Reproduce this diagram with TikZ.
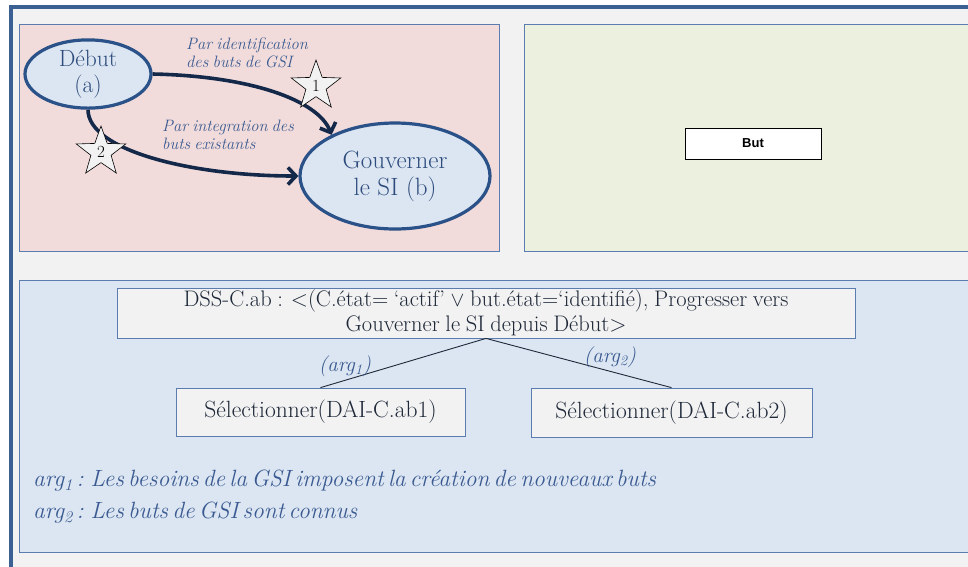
\documentclass[tikz,border=0pt]{standalone}
\usepackage{fontspec}
\newfontfamily\arialfont{Liberation Sans}
\usetikzlibrary{shapes.geometric,arrows.meta}
\definecolor{framebl}{HTML}{3B6194}
\definecolor{panelbd}{HTML}{5B7CAE}
\definecolor{pinkbg}{HTML}{F2DCDB}
\definecolor{greenbg}{HTML}{EBF1DE}
\definecolor{bluebg}{HTML}{DCE6F2}
\definecolor{greybg}{HTML}{F2F2F2}
\definecolor{ellbd}{HTML}{2A5188}
\definecolor{elltxt}{HTML}{2E4C7D}
\definecolor{arrowc}{HTML}{14284A}
\definecolor{labtxt}{HTML}{3A5A91}
\definecolor{boxtxt}{HTML}{1E2838}
\newcommand{\tightsp}[1]{\spaceskip=#1em plus 0.1em minus 0.05em\relax}
\tikzset{
  panel/.style={draw=panelbd, line width=0.8pt},
  ellnode/.style={ellipse, draw=ellbd, line width=3.2pt, fill=bluebg, inner sep=0pt, align=center, text=elltxt},
  flow/.style={draw=arrowc, line width=3.6pt, -{Straight Barb[length=8pt,width=17pt,line width=3.6pt]}},
  starnode/.style={star, star points=5, star point ratio=2.45, draw=black, line width=0.6pt, fill=greybg, minimum size=52pt, inner sep=0pt, font=\fontsize{17}{17}\selectfont},
  arclab/.style={anchor=north west, align=left, text=labtxt, font=\fontsize{16.5}{18}\selectfont\itshape\tightsp{0.25}, inner sep=0pt},
  tbox/.style={rectangle, draw=panelbd, line width=0.8pt, fill=greybg, align=center, inner sep=0pt, text=boxtxt},
  linkline/.style={line width=0.9pt, draw=boxtxt},
  arglab/.style={text=labtxt, font=\fontsize{21}{21}\selectfont\itshape, inner sep=0pt},
  legend/.style={anchor=west, text=labtxt, font=\fontsize{23.5}{23.5}\selectfont\itshape\tightsp{0.18}, inner sep=0pt},
}
\begin{document}
\begin{tikzpicture}[x=1pt,y=-1pt]
\useasboundingbox (0,0) rectangle (968,566);
% outer frame
\draw[fill=greybg, draw=framebl, line width=4pt] (11,7) rectangle (990,590);
% panels
\draw[panel, fill=pinkbg] (19,24) rectangle (499,251);
\draw[panel, fill=greenbg] (524,24) rectangle (990,251);
\draw[panel, fill=bluebg] (19,280) rectangle (990,552);
% top-left diagram
\node[ellnode, minimum width=126pt, minimum height=68pt, font=\fontsize{23.5}{26}\selectfont] (debut) at (88,74) {Début\\(a)};
\node[ellnode, minimum width=190pt, minimum height=106pt, font=\fontsize{25}{27}\selectfont] (gouv) at (395,176) {Gouverner\\le SI (b)};
\draw[flow] (debut.east) .. controls (250,76) and (318,100) .. (gouv.147);
\draw[flow] (debut.south) .. controls (88,150) and (190,176) .. (gouv.west);
\node[starnode] (s1) at (316,86) {1};
\node[starnode] (s2) at (101,152) {2};
\node[arclab] (l1) at (186,38) {Par identification\\des buts de GSI};
\node[arclab] (l2) at (162,120) {Par integration des\\buts existants};
% green panel
\node[rectangle, draw=black, line width=1pt, fill=white, minimum width=136pt, minimum height=31pt, inner sep=0pt, font=\arialfont\bfseries\fontsize{13}{13}\selectfont] (but) at (753,143.5) {But};
% bottom panel
\node[tbox, minimum width=738pt, minimum height=50pt, font=\fontsize{22.5}{25}\selectfont\tightsp{0.25}] (dss) at (486,313) {DSS-C.ab : <(C.état= ‘actif’ $\vee$ but.état=‘identifié), Progresser vers\\Gouverner le SI depuis Début>};
\node[tbox, minimum width=289pt, minimum height=48pt, font=\fontsize{23.5}{24}\selectfont] (sel1) at (320.5,412) {Sélectionner(DAI-C.ab1)};
\node[tbox, minimum width=281pt, minimum height=49pt, font=\fontsize{23.5}{24}\selectfont] (sel2) at (671.5,412.5) {Sélectionner(DAI-C.ab2)};
\draw[linkline] (dss.south) -- (sel1.north);
\draw[linkline] (dss.south) -- (sel2.north);
\node[arglab] (a1) at (345,366) {(arg\textsubscript{1})};
\node[arglab] (a2) at (610,357) {(arg\textsubscript{2})};
\node[legend] (t1) at (33,481) {arg\textsubscript{1}\,: Les besoins de la GSI imposent la création de nouveaux buts};
\node[legend] (t2) at (33,513) {arg\textsubscript{2}\,: Les buts de GSI sont connus};
\end{tikzpicture}
\end{document}
